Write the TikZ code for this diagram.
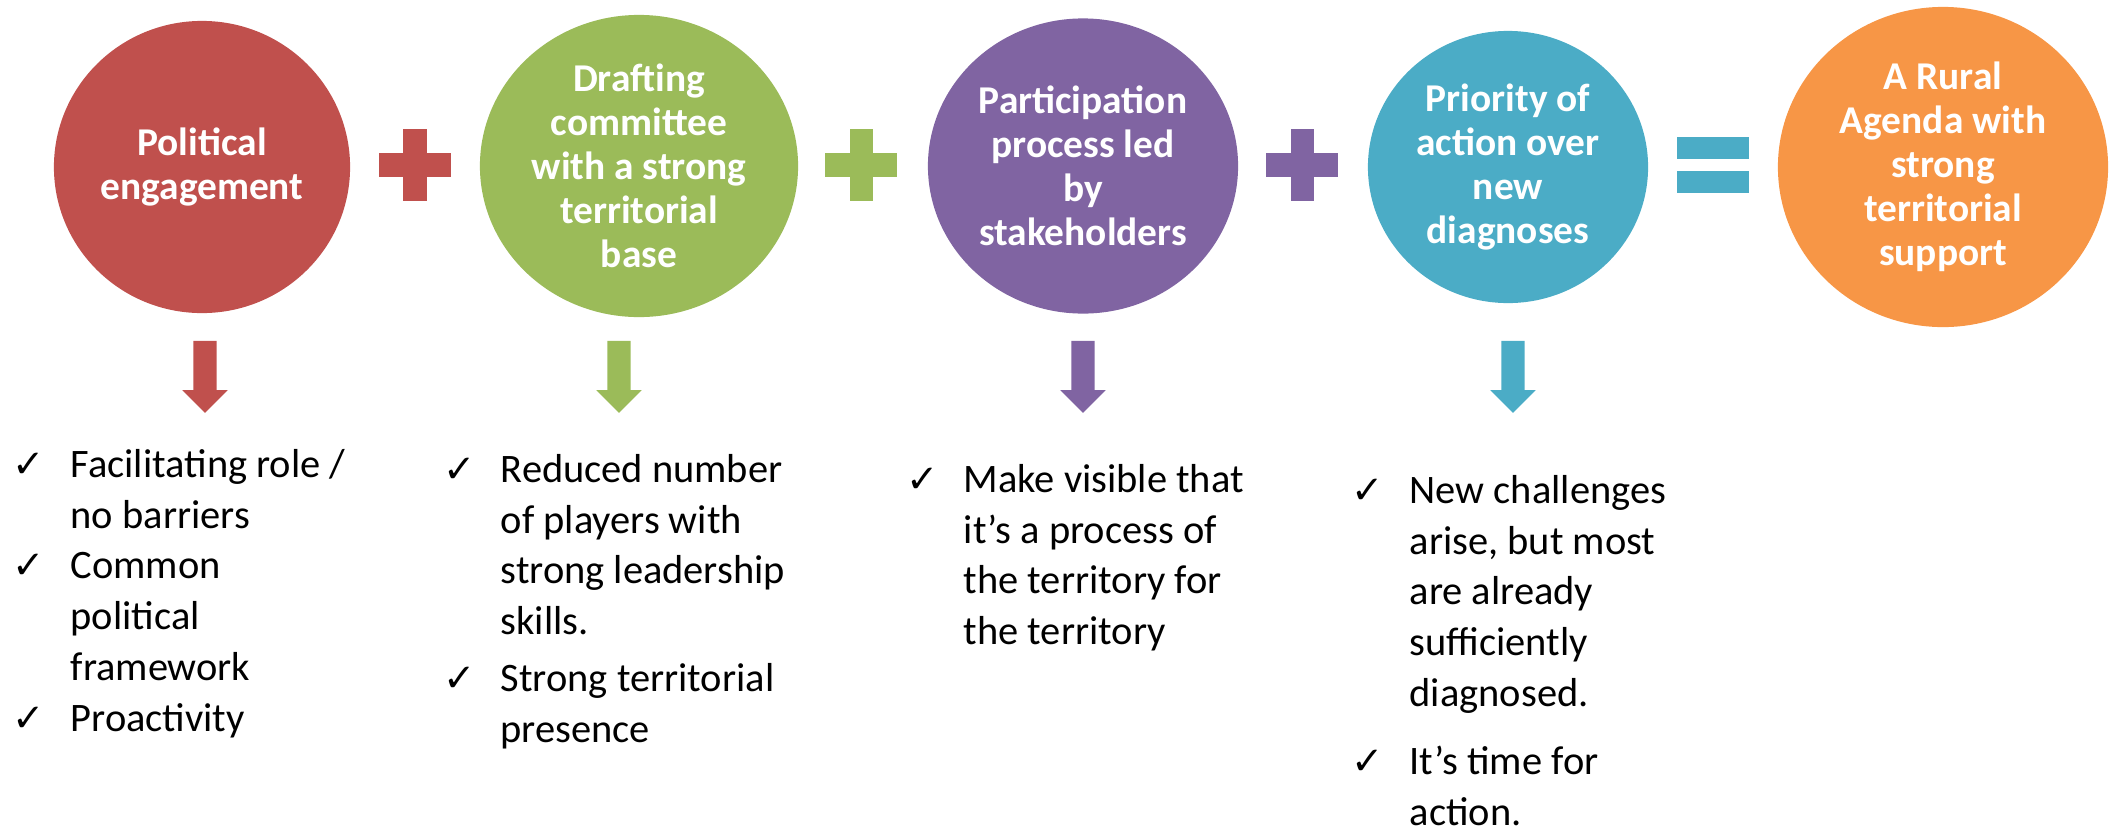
\documentclass[tikz,border=0pt]{standalone}
\usepackage{fontspec}
\setmainfont{Carlito}
\newfontfamily\tickfont{DejaVu Sans}
\usetikzlibrary{shapes.geometric,shapes.arrows}

\definecolor{polred}{HTML}{C0504D}
\definecolor{draftgreen}{HTML}{9BBB59}
\definecolor{partpurple}{HTML}{8064A2}
\definecolor{prioblue}{HTML}{4BACC6}
\definecolor{agendaorange}{HTML}{F79646}

\newcommand{\tick}{{\tickfont\fontsize{11}{11}\selectfont ✓}}

\tikzset{
  bubble/.style={ellipse, inner sep=0pt, fill=#1},
  bubbletext/.style={text=white, font=\fontsize{11.2}{12.5}\selectfont\bfseries, align=center},
  hbar/.style={fill=#1, inner sep=0pt, minimum width=0.72cm, minimum height=0.23cm},
  vbar/.style={fill=#1, inner sep=0pt, minimum width=0.23cm, minimum height=0.72cm},
  downarrow/.style={single arrow, fill=#1, rotate=-90, inner sep=0.11cm,
    minimum height=0.72cm, single arrow head extend=0.11cm, single arrow head indent=0pt},
  checklist/.style={anchor=base west, inner sep=0pt, font=\fontsize{11.5}{14.5}\selectfont}
}

\begin{document}
\begin{tikzpicture}[x=0.01cm,y=-0.01cm]
    \useasboundingbox (0,0) rectangle (2112,833);

    % the five circles
    \node[bubble=polred, minimum width=2.96cm, minimum height=2.92cm] (pol) at (202,167) {};
    \node[bubbletext] (polt) at (pol) {Political\\engagement};
    \node[bubble=draftgreen, minimum width=3.18cm, minimum height=3.02cm] (draft) at (639,166) {};
    \node[bubbletext] (draftt) at (draft) {Drafting\\committee\\with a strong\\territorial\\base};
    \node[bubble=partpurple, minimum width=3.10cm, minimum height=2.95cm] (part) at (1083,166) {};
    \node[bubbletext] (partt) at (part) {Participation\\process led\\by\\stakeholders};
    \node[bubble=prioblue, minimum width=2.80cm, minimum height=2.72cm] (prio) at (1508,167) {};
    \node[bubbletext] (priot) at (prio) {Priority of\\action over\\new\\diagnoses};
    \node[bubble=agendaorange, minimum width=3.30cm, minimum height=3.20cm] (agenda) at (1943,167) {};
    \node[bubbletext] (agendat) at (agenda) {A Rural\\Agenda with\\strong\\territorial\\support};

    % plus and equals signs
    \node[hbar=polred] (plusa) at (415,165) {};
    \node[vbar=polred] (plusav) at (plusa) {};
    \node[hbar=draftgreen] (plusb) at (861,165) {};
    \node[vbar=draftgreen] (plusbv) at (plusb) {};
    \node[hbar=partpurple] (plusc) at (1302,165) {};
    \node[vbar=partpurple] (pluscv) at (plusc) {};
    \node[hbar=prioblue, minimum height=0.22cm] (equa) at (1713,148) {};
    \node[hbar=prioblue, minimum height=0.22cm] (equb) at (1713,182) {};

    % arrows down
    \node[downarrow=polred] (arra) at (205,371) {};
    \node[downarrow=draftgreen] (arrb) at (619,371) {};
    \node[downarrow=partpurple] (arrc) at (1083,371) {};
    \node[downarrow=prioblue] (arrd) at (1513,371) {};

    % lists
    \node[checklist] (lista) at (12,477) {\begin{tabular}[t]{@{}p{0.58cm}@{}l@{}}
      \tick & Facilitating role /\\
            & no barriers\\
      \tick & Common\\
            & political\\
            & framework\\
      \tick & Proactivity
    \end{tabular}};
    \node[checklist] (listb) at (443,482) {\begin{tabular}[t]{@{}p{0.57cm}@{}l@{}}
      \tick & Reduced number\\
            & of players with\\
            & strong leadership\\
            & skills.\\[1.7pt]
      \tick & Strong territorial\\
            & presence
    \end{tabular}};
    \node[checklist] (listc) at (906,492) {\begin{tabular}[t]{@{}p{0.57cm}@{}l@{}}
      \tick & Make visible that\\
            & it’s a process of\\
            & the territory for\\
            & the territory
    \end{tabular}};
    \node[checklist] (listd) at (1351,503) {\begin{tabular}[t]{@{}p{0.58cm}@{}l@{}}
      \tick & New challenges\\
            & arise, but most\\
            & are already\\
            & sufficiently\\
            & diagnosed.\\[4.8pt]
      \tick & It’s time for\\
            & action.
    \end{tabular}};
\end{tikzpicture}
\end{document}
